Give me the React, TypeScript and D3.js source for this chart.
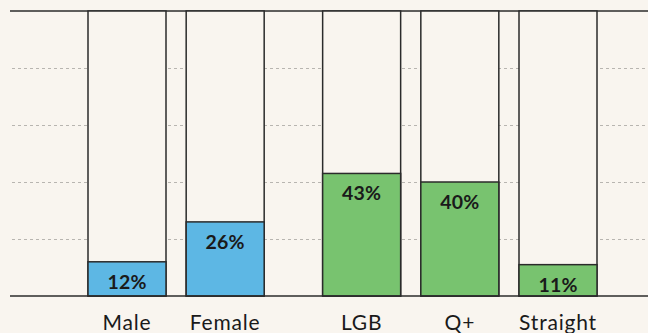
import React from "react";
import * as d3 from "d3";

const categories = ["Male", "Female", "LGB", "Q+", "Straight"];
const groups = ["gender", "gender", "orientation", "orientation", "orientation"];
const values = [12, 26, 43, 40, 11];
const yTicks = [0, 20, 40, 60, 80, 100];

const W = 648;
const H = 333;
const BG = "#f9f5ef";
const groupColor: Record<string, string> = { gender: "#5db7e4", orientation: "#78c36f" };
const FONT = "Lato, 'Noto Sans', sans-serif";

export default function App() {
  const groupNames = Array.from(new Set(groups));
  const slots = categories.map((_, i) => i + groupNames.indexOf(groups[i]) * 0.39);
  const x = d3.scaleLinear().domain([0, d3.max(slots) as number]).range([127, 558]);
  const y = d3.scaleLinear().domain([0, 100]).range([296, 11]);
  const bw = 78;

  return (
    <svg width={W} height={H} style={{ position: "absolute", left: 0, top: 0, display: "block" }}>
      <rect x={0} y={0} width={W} height={H} fill={BG} />
      {yTicks.filter((t) => t > 0 && t < 100).map((t) => (
        <line key={t} x1={12} x2={W} y1={Math.round(y(t)) + 0.5} y2={Math.round(y(t)) + 0.5}
          stroke="#b8b5b0" strokeWidth={1} strokeDasharray="3,3" />
      ))}
      <line x1={10} x2={W} y1={y(100)} y2={y(100)} stroke="#2b2b2b" strokeWidth={1.5} />
      {categories.map((c, i) => {
        const cx = x(slots[i]);
        return (
          <g key={c}>
            <rect x={cx - bw / 2} y={y(100)} width={bw} height={y(0) - y(100)} fill={BG} stroke="#2b2b2b" strokeWidth={1.5} />
            <rect x={cx - bw / 2} y={y(values[i])} width={bw} height={y(0) - y(values[i])}
              fill={groupColor[groups[i]]} stroke="#2b2b2b" strokeWidth={1.5} />
            <text x={cx} y={y(values[i]) + 27} textAnchor="middle" fontFamily={FONT} fontWeight={700}
              fontSize={19.5} letterSpacing={0.2} fill="#1a1a1a">{values[i]}%</text>
            <text x={cx} y={329.5} textAnchor="middle" fontFamily={FONT} fontSize={21} letterSpacing={0.8} fill="#1a1a1a">{c}</text>
          </g>
        );
      })}
      <line x1={10} x2={W} y1={y(0)} y2={y(0)} stroke="#2b2b2b" strokeWidth={1.5} />
    </svg>
  );
}
